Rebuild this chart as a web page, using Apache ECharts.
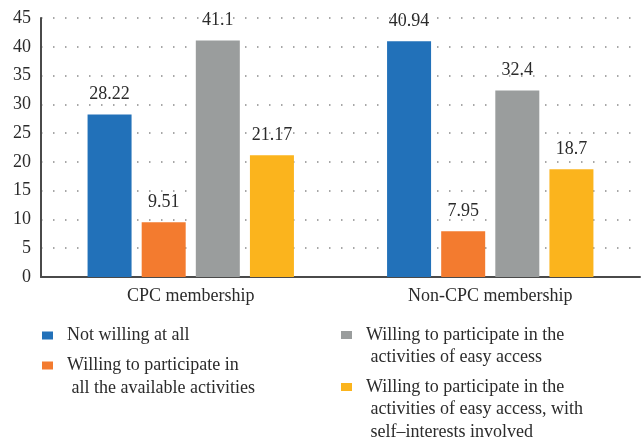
<!DOCTYPE html>
<html>
<head>
<meta charset="utf-8">
<script src="https://cdn.jsdelivr.net/npm/echarts@6/dist/echarts.min.js"></script>
<style>
  html, body { margin: 0; padding: 0; background: #fff; }
  #chart { width: 641px; height: 446px; }
</style>
</head>
<body>
<div id="chart"></div>
<script>
// data
var categories = ["CPC membership", "Non-CPC membership"];
var seriesNames = [
  "Not willing at all",
  "Willing to participate in\n all the available activities",
  "Willing to participate in the\n activities of easy access",
  "Willing to participate in the\n activities of easy access, with\n self\u2013interests involved"
];
var notWilling = [28.22, 40.94];
var allActivities = [9.51, 7.95];
var easyAccess = [41.1, 32.4];
var easyAccessSelf = [21.17, 18.7];
var colors = ["#2271b9", "#f37b2f", "#9a9d9d", "#fbb41d"];

var font = "Liberation Serif";
var textColor = "#2b2b2b";
var lineH = 22.5;

var myChart = echarts.init(document.getElementById("chart"), null, { renderer: "canvas" });

function bar(name, data, color) {
  return {
    type: "bar",
    name: name,
    data: data,
    barWidth: 44,
    barGap: "23%",
    itemStyle: { color: color },
    label: {
      show: true,
      position: "top",
      distance: 11,
      fontFamily: font,
      fontSize: 18,
      color: textColor
    }
  };
}

// one legend per item so the columns sit like the figure
// blank lines in front keep the first real line level with the square
function legendItem(idx, left, centerY) {
  var lines = seriesNames[idx].split("\n").length;
  var lead = new Array(lines).join("\n");
  return {
    left: left,
    top: centerY - (2 * lines - 1) * lineH / 2,
    padding: 0,
    itemWidth: 11,
    itemHeight: 8,
    icon: "rect",
    selectedMode: false,
    data: [seriesNames[idx]],
    formatter: function (name) {
      return lead + name;
    },
    textStyle: {
      fontFamily: font,
      fontSize: 18,
      color: textColor,
      lineHeight: lineH,
      padding: [0, 0, 0, 9]
    }
  };
}

var option = {
  animation: false,
  grid: { left: 41, right: 1, top: 18, bottom: 169, containLabel: false },
  xAxis: {
    type: "category",
    data: categories,
    axisLine: { lineStyle: { color: "#4a4a4a", width: 2 } },
    axisTick: { show: false },
    axisLabel: { fontFamily: font, fontSize: 18, color: textColor, margin: 10 }
  },
  yAxis: {
    type: "value",
    min: 0,
    max: 45,
    interval: 5,
    axisLine: { show: true, lineStyle: { color: "#4a4a4a", width: 2 } },
    axisTick: { show: false },
    axisLabel: { fontFamily: font, fontSize: 18, color: textColor, margin: 10 },
    splitLine: { lineStyle: { color: "#8a8a8a", type: [1.5, 10.5], width: 1.5 } }
  },
  legend: [
    legendItem(0, 42, 335.5),
    legendItem(1, 42, 365.5),
    legendItem(2, 341, 335),
    legendItem(3, 341, 387)
  ],
  series: [
    bar(seriesNames[0], notWilling, colors[0]),
    bar(seriesNames[1], allActivities, colors[1]),
    bar(seriesNames[2], easyAccess, colors[2]),
    bar(seriesNames[3], easyAccessSelf, colors[3])
  ]
};

myChart.setOption(option);
</script>
</body>
</html>
